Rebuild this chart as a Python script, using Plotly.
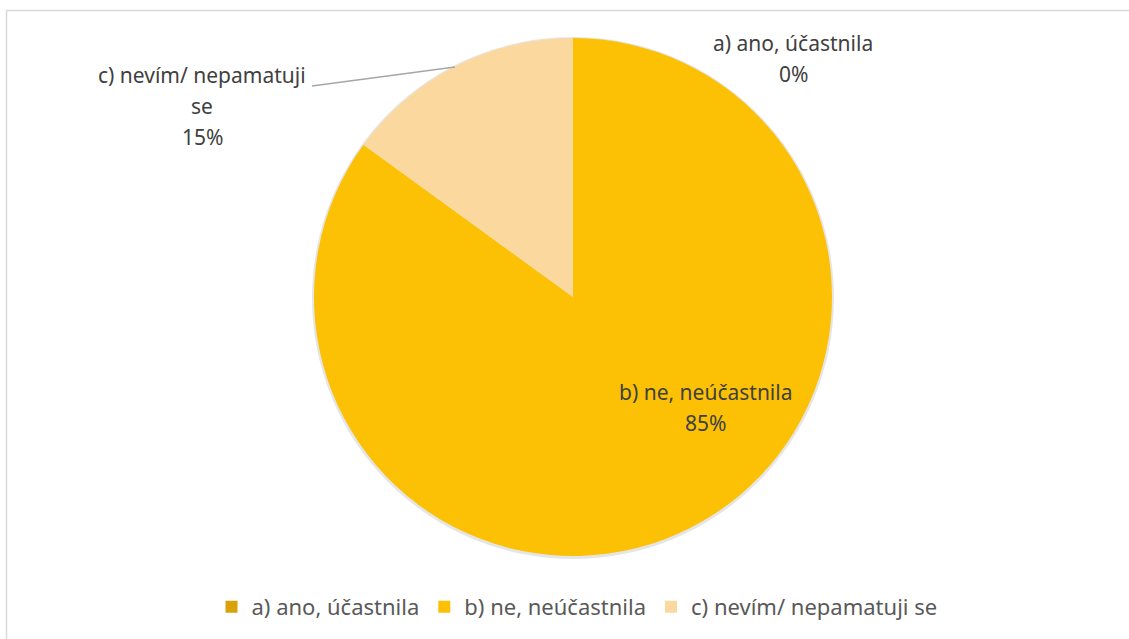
import plotly.graph_objects as go

W, H = 1129, 639

labels = ["a) ano, účastnila", "b) ne, neúčastnila", "c) nevím/ nepamatuji se"]
values = [0, 85, 15]
percent_text = ["0%", "85%", "15%"]
colors = ["#D9A10C", "#FCC105", "#FBD89E"]

def px(x):
    return x / W

def py(y):
    return 1 - y / H

cx, cy, r = 573, 297, 259

fig = go.Figure()
# soft shadow behind the pie
fig.add_trace(go.Pie(
    values=[1], labels=["shadow"], sort=False,
    marker=dict(colors=["rgba(0,0,0,0.10)"], line=dict(width=0)),
    textinfo="none", hoverinfo="skip", showlegend=False,
    domain=dict(x=[px(cx - r - 2), px(cx + r + 2)], y=[py(cy + r + 3), py(cy - r - 1)]),
))
fig.add_trace(go.Pie(
    labels=labels,
    values=values,
    sort=False,
    direction="clockwise",
    rotation=0,
    marker=dict(colors=colors, line=dict(width=0)),
    textinfo="none",
    hoverinfo="label+percent",
    domain=dict(x=[px(cx - r), px(cx + r)], y=[py(cy + r), py(cy - r)]),
    showlegend=True,
))

FONT = "Noto Sans, Lato, sans-serif"
font_main = dict(family=FONT, size=21, color="#404040")

# data label lines (label text wrapped as in the reference)
label_lines = [
    [labels[0], percent_text[0]],
    [labels[1], percent_text[1]],
    ["c) nevím/ nepamatuji", "se", percent_text[2]],
]
label_anchor = [(793, 43), (705, 392), (202, 75)]
LINE = 31
for lines, (x, y0) in zip(label_lines, label_anchor):
    for i, t in enumerate(lines):
        fig.add_annotation(x=px(x), y=py(y0 + i * LINE), xref="paper", yref="paper", text=t,
                           showarrow=False, font=font_main, align="center",
                           xanchor="center", yanchor="middle")

# leader line for label c
fig.add_shape(type="line", xref="paper", yref="paper",
              x0=px(312), y0=py(86), x1=px(455), y1=py(67),
              line=dict(color="#A6A6A6", width=1.5))

# chart border
fig.add_shape(type="rect", xref="paper", yref="paper",
              x0=px(6.5), y0=py(660), x1=px(1150), y1=py(10.5),
              line=dict(color="#D9D9D9", width=1.5))

fig.update_layout(
    width=W, height=H,
    margin=dict(l=0, r=0, t=0, b=0),
    paper_bgcolor="white",
    plot_bgcolor="white",
    legend=dict(orientation="h", x=px(577), xanchor="center", y=py(607), yanchor="middle",
                font=dict(family=FONT, size=22, color="#595959"),
                itemsizing="constant", tracegroupgap=0, itemwidth=30),
)

fig.write_html(
    "out.html",
    config={"displayModeBar": False},
    post_script="document.body.style.margin='0';document.body.style.overflow='hidden';",
)
